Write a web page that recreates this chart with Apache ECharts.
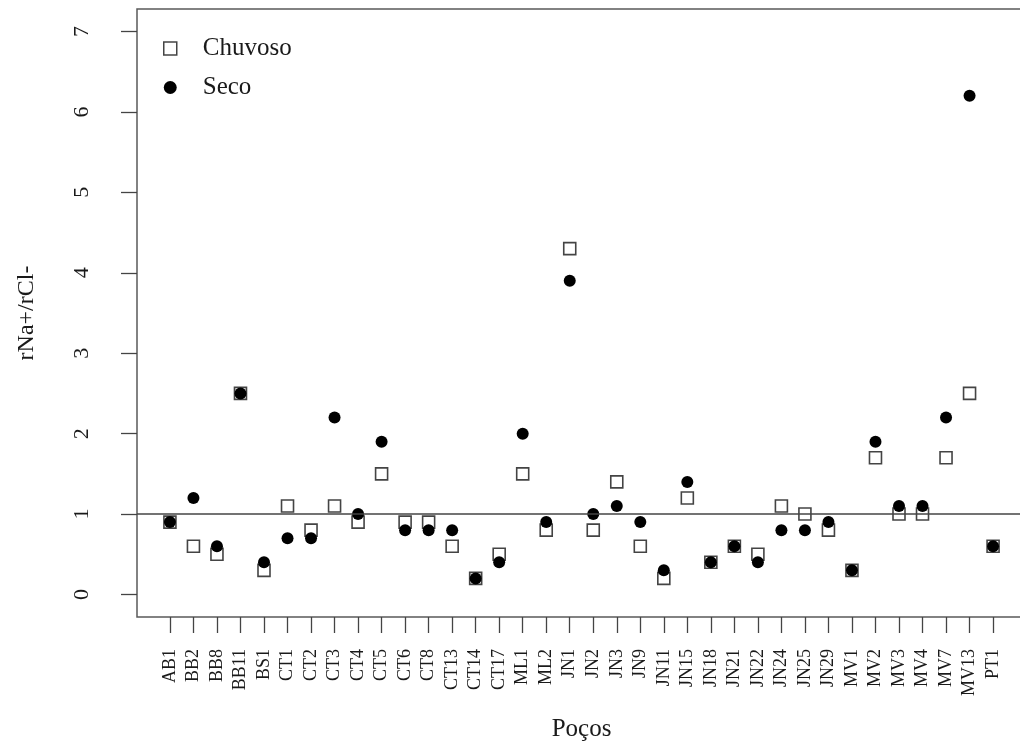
<!DOCTYPE html>
<html>
<head>
<meta charset="utf-8">
<title>rNa+/rCl- por poço</title>
<script src="https://cdn.jsdelivr.net/npm/echarts@6/dist/echarts.min.js"></script>
<style>
  html, body { margin: 0; padding: 0; background: #ffffff; }
  #chart { width: 1020px; height: 749px; }
</style>
</head>
<body>
<div id="chart"></div>
<script>
// Wells (x axis categories)
const wells = ['AB1', 'BB2', 'BB8', 'BB11', 'BS1', 'CT1', 'CT2', 'CT3', 'CT4', 'CT5', 'CT6', 'CT8',
  'CT13', 'CT14', 'CT17', 'ML1', 'ML2', 'JN1', 'JN2', 'JN3', 'JN9', 'JN11', 'JN15', 'JN18',
  'JN21', 'JN22', 'JN24', 'JN25', 'JN29', 'MV1', 'MV2', 'MV3', 'MV4', 'MV7', 'MV13', 'PT1'];

// rNa+/rCl- ratio, rainy season
const chuvoso = [0.9, 0.6, 0.5, 2.5, 0.3, 1.1, 0.8, 1.1, 0.9, 1.5, 0.9, 0.9,
  0.6, 0.2, 0.5, 1.5, 0.8, 4.3, 0.8, 1.4, 0.6, 0.2, 1.2, 0.4,
  0.6, 0.5, 1.1, 1.0, 0.8, 0.3, 1.7, 1.0, 1.0, 1.7, 2.5, 0.6];

// rNa+/rCl- ratio, dry season
const seco = [0.9, 1.2, 0.6, 2.5, 0.4, 0.7, 0.7, 2.2, 1.0, 1.9, 0.8, 0.8,
  0.8, 0.2, 0.4, 2.0, 0.9, 3.9, 1.0, 1.1, 0.9, 0.3, 1.4, 0.4,
  0.6, 0.4, 0.8, 0.8, 0.9, 0.3, 1.9, 1.1, 1.1, 2.2, 6.2, 0.6];

// Y axis tick values
const yTicks = [0, 1, 2, 3, 4, 5, 6, 7];
// Reference level drawn as a horizontal line
const refLevel = 1;

const positions = wells.map((_, i) => i + 1);
const serif = '"Liberation Serif", "DejaVu Serif", serif';
const ink = '#1a1a1a';

const chart = echarts.init(document.getElementById('chart'), null, { renderer: 'canvas' });

chart.setOption({
  animation: false,
  backgroundColor: '#ffffff',
  textStyle: { fontFamily: serif, color: ink },
  grid: {
    left: 137, top: 9, width: 889, height: 608,
    outerBoundsMode: 'none',
    containLabel: false,
    show: true, borderColor: '#5a5a5a', borderWidth: 1.5, backgroundColor: 'transparent'
  },
  legend: {
    orient: 'vertical',
    left: 158, top: 31,
    itemWidth: 13, itemHeight: 13, itemGap: 14,
    textStyle: { fontFamily: serif, fontSize: 25, color: ink, padding: [0, 0, 0, 21] },
    data: [
      { name: 'Chuvoso', icon: 'rect', itemStyle: { color: 'transparent', borderColor: '#444', borderWidth: 1.5 } },
      { name: 'Seco', icon: 'circle', itemStyle: { color: '#000' } }
    ]
  },
  xAxis: {
    type: 'value',
    min: -0.4, max: 37.4,
    name: 'Poços',
    nameLocation: 'middle',
    nameGap: 100,
    nameTextStyle: { fontFamily: serif, fontSize: 25, color: ink },
    axisLine: { show: false, onZero: false },
    splitLine: { show: false },
    axisTick: { show: true, inside: false, length: 16, customValues: positions, lineStyle: { color: '#444', width: 1.3 } },
    axisLabel: {
      show: true, rotate: 90, margin: 32,
      fontFamily: serif, fontSize: 18, color: ink,
      customValues: positions,
      formatter: v => wells[Math.round(v) - 1] || ''
    }
  },
  yAxis: {
    type: 'value',
    min: -0.28, max: 7.28,
    name: 'rNa+/rCl-',
    nameLocation: 'middle',
    nameGap: 98,
    nameTextStyle: { fontFamily: serif, fontSize: 24, color: ink },
    axisLine: { show: false, onZero: false },
    splitLine: { show: false },
    axisTick: { show: true, inside: false, length: 16, customValues: yTicks, lineStyle: { color: '#444', width: 1.3 } },
    axisLabel: {
      show: true, rotate: 90, margin: 44,
      fontFamily: serif, fontSize: 22, color: ink,
      customValues: yTicks
    }
  },
  series: [
    {
      name: 'Chuvoso',
      type: 'scatter',
      symbol: 'rect',
      symbolSize: 12,
      itemStyle: { color: 'transparent', borderColor: '#444', borderWidth: 1.6, opacity: 1 },
      data: chuvoso.map((v, i) => [positions[i], v]),
      z: 3,
      markLine: {
        silent: true,
        symbol: 'none',
        label: { show: false },
        lineStyle: { color: '#444', width: 1.5, type: 'solid' },
        data: [{ yAxis: refLevel }]
      }
    },
    {
      name: 'Seco',
      type: 'scatter',
      symbol: 'circle',
      symbolSize: 12,
      itemStyle: { color: '#000', opacity: 1 },
      data: seco.map((v, i) => [positions[i], v]),
      z: 4
    }
  ]
});
</script>
</body>
</html>
